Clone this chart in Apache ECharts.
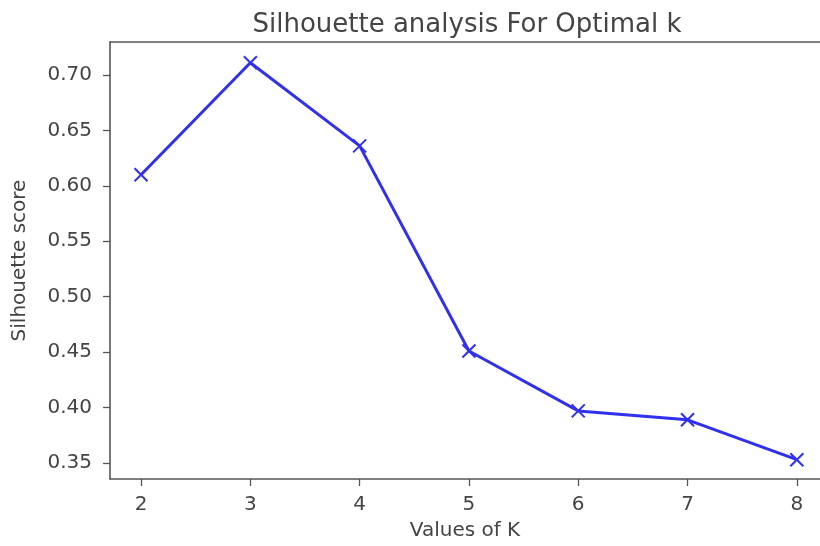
<!DOCTYPE html>
<html>
<head>
<meta charset="utf-8">
<script src="https://cdn.jsdelivr.net/npm/echarts@6/dist/echarts.min.js"></script>
<style>html,body{margin:0;padding:0;background:#fff}#c{width:820px;height:546px}</style>
</head>
<body>
<div id="c"></div>
<script>
const kValues = [2, 3, 4, 5, 6, 7, 8];
const scores = [0.610, 0.711, 0.636, 0.451, 0.397, 0.389, 0.353];
const xTicks = [2, 3, 4, 5, 6, 7, 8];
const yTicks = [0.35, 0.40, 0.45, 0.50, 0.55, 0.60, 0.65, 0.70];

const chart = echarts.init(document.getElementById('c'), null, {renderer: 'canvas'});
const font = 'DejaVu Sans';
const txt = '#444';
const spine = {show: true, lineStyle: {color: '#555', width: 1.6}};
const xPath = 'path://M0,0 L10,10 M10,0 L0,10';
chart.setOption({
  animation: false,
  backgroundColor: '#fff',
  title: {
    text: 'Silhouette analysis For Optimal k',
    left: 462, top: 7, textAlign: 'center',
    textStyle: {fontFamily: font, fontSize: 26, fontWeight: 'normal', color: txt}
  },
  grid: {left: 110, top: 42, right: 0, bottom: 66},
  xAxis: [{
    type: 'value', min: 1.716, max: 8.212,
    name: 'Values of K', nameLocation: 'middle', nameGap: 42,
    nameTextStyle: {fontFamily: font, fontSize: 20, color: txt},
    axisLine: spine,
    splitLine: {show: false},
    axisTick: {show: true, length: 7, customValues: xTicks, lineStyle: {color: '#555', width: 1.3}},
    axisLabel: {customValues: xTicks, fontFamily: font, fontSize: 20, color: txt, margin: 16}
  }, {
    type: 'value', position: 'top', min: 1.716, max: 8.212,
    axisLine: spine, axisTick: {show: false}, axisLabel: {show: false}, splitLine: {show: false}
  }],
  yAxis: {
    type: 'value', min: 0.3356, max: 0.7297,
    name: 'Silhouette score', nameLocation: 'middle', nameGap: 80,
    nameTextStyle: {fontFamily: font, fontSize: 20, color: txt},
    axisLine: spine,
    splitLine: {show: false},
    axisTick: {show: true, length: 7, customValues: yTicks, lineStyle: {color: '#555', width: 1.3}},
    axisLabel: {customValues: yTicks, fontFamily: font, fontSize: 20, color: txt, margin: 18,
      formatter: v => v.toFixed(2)}
  },
  series: [{
    type: 'line',
    xAxisIndex: 0,
    data: kValues.map((k, i) => [k, scores[i]]),
    lineStyle: {color: '#3030f0', width: 3},
    itemStyle: {color: 'transparent', borderColor: '#3030f0', borderWidth: 2},
    symbol: xPath, symbolSize: 13, showSymbol: true
  }]
});
</script>
</body>
</html>
